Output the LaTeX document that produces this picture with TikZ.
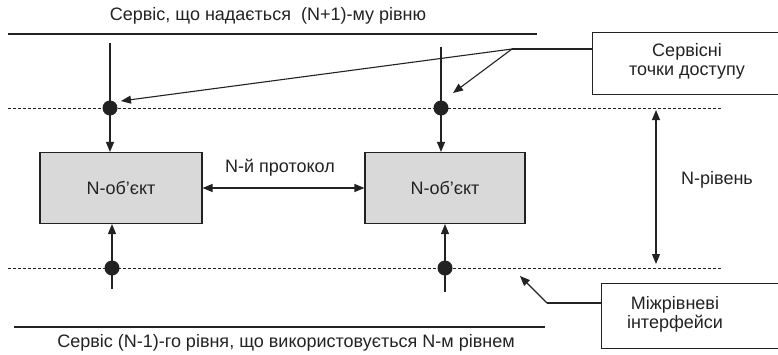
\documentclass[tikz,border=0pt]{standalone}
\usepackage{fontspec}
\setmainfont{Liberation Sans}
\usetikzlibrary{arrows.meta}
\definecolor{ink}{HTML}{222222}
\definecolor{boxgray}{HTML}{D9D9D9}
\begin{document}
\begin{tikzpicture}[x=1pt,y=-1pt,
  line width=1.1pt, draw=ink,
  every node/.style={text=ink, font=\fontsize{18}{21}\selectfont},
  arr/.style={draw=ink, -{Triangle[length=10pt,width=8pt]}},
  darr/.style={draw=ink, {Triangle[length=10pt,width=8pt]}-{Triangle[length=10pt,width=8pt]}},
  entity/.style={draw=ink, fill=boxgray, minimum width=162pt, minimum height=71pt, inner sep=0pt},
  callout/.style={draw=ink, fill=white, inner sep=0pt, align=center},
  sap/.style={circle, fill=ink, draw=none, minimum size=15pt, inner sep=0pt},
  layer/.style={draw=ink, dashed, dash pattern=on 3pt off 2pt, line width=0.9pt}]
\useasboundingbox (0,0) rectangle (778,354);

% service boundaries
\node (topsvc) at (268,16) {Сервіс, що надається \ (N+1)-му рівню};
\draw (8,34) -- (537,34);
\node (botsvc) at (286,343) {Сервіс (N-1)-го рівня, що використовується N-м рівнем};
\draw (14,327) -- (545,327);

% layer interfaces
\coordinate (upL) at (8,108);
\coordinate (upR) at (721,108);
\coordinate (loL) at (8,268);
\coordinate (loR) at (722,268);
\draw[layer] (upL) -- (upR);
\draw[layer] (loL) -- (loR);

% N-entities
\node[entity] (e1) at (121,188) {N-об'єкт};
\node[entity, minimum width=160pt] (e2) at (445,188) {N-об'єкт};
\draw[darr] (e1.east) -- (e2.east -| e2.west);
\node (proto) at (280,168) {N-й протокол};

% service access points and vertical flows
\node[sap] (s1) at (110,108) {};
\node[sap] (s2) at (441,108) {};
\node[sap] (s3) at (112,268) {};
\node[sap] (s4) at (445,268) {};
\coordinate (t1) at (110,43);
\coordinate (t2) at (441,47);
\coordinate (b1) at (112,289);
\coordinate (b2) at (445,292);
\draw[arr] (t1) -- (t1 |- e1.north);
\draw[arr] (t2) -- (t2 |- e2.north);
\draw[arr] (b1) -- (b1 |- e1.south);
\draw[arr] (b2) -- (b2 |- e2.south);

% layer extent
\coordinate (lvTop) at (656,110);
\coordinate (lvBot) at (656,264);
\draw[darr] (lvTop) -- (lvBot);
\node (lvl) at (717,180) {N-рівень};

% callout: service access points
\node[callout, minimum width=190pt, minimum height=62pt, anchor=north west] (sapbox) at (592,32) {};
\node (saptxt) at (687,62) {\begin{tabular}{@{}c@{}}Сервісні\\[-2pt] точки доступу\end{tabular}};
\coordinate (j1) at (512,49);
\draw (sapbox.west |- j1) -- (j1);
\draw[arr] (j1) -- (121,101);
\draw[arr] (j1) -- (453,93);

% callout: inter-layer interfaces
\node[callout, minimum width=182pt, minimum height=65pt, anchor=north west] (ifbox) at (601,283) {};
\node (iftxt) at (675,315) {\begin{tabular}{@{}c@{}}Міжрівневі\\[-2pt] інтерфейси\end{tabular}};
\coordinate (j2) at (547,303);
\draw (ifbox.west |- j2) -- (j2);
\draw[arr] (j2) -- (520,276);
\end{tikzpicture}
\end{document}
